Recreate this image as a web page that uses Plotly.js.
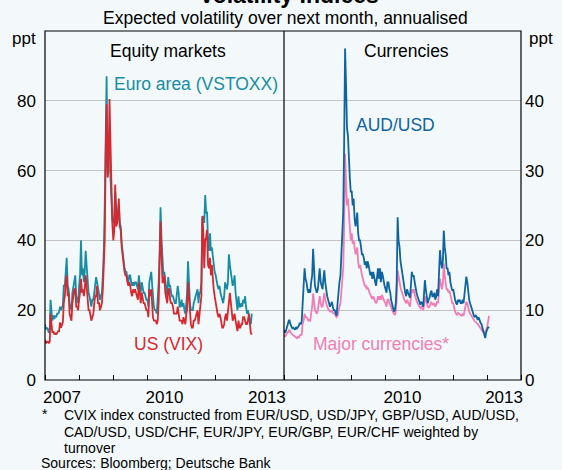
<!DOCTYPE html>
<html><head><meta charset="utf-8">
<script src="https://cdn.plot.ly/plotly-3.0.1.min.js"></script>
<style>html,body{margin:0;padding:0;background:#f3f9fa;} #chart{width:562px;height:470px;}</style>
</head><body><div id="chart"></div>
<script>
// sampling grid: 1st, 11th, 21st of each month, Jan 2007 - Jan 2013
const sampleDays = ['01','11','21'];
const firstYear = 2007, lastYear = 2013, lastMonth = 1;
const dates = [];
for (let y = firstYear; y <= lastYear; y++) {
  for (let m = 1; m <= 12; m++) {
    if (y === lastYear && m > lastMonth) break;
    for (const d of sampleDays) dates.push(y + '-' + String(m).padStart(2,'0') + '-' + d);
  }
}

// Euro area (VSTOXX), ppt
const vstoxx = [
  16,14.5,15, 14.5,13.5,15, 23,19,17, 18.5,17.5,18.5, 18,19,19, 19.5,21,20, 21,21.5,27, 27,31,35, 27,26,22, 21,20,25, 27,29,30, 24,23,22,
  27,30,40, 30,32,28, 31,37,33, 28,25,24, 22,21,23, 23,25,27, 29.5,28,26, 25,23,24, 25,30,37, 50,72,87, 60,66,72, 58,52,46,
  45,47,54, 47,45,47, 50,45,44, 39,36,34, 32,31,31, 29,28,30, 30,28,27, 28,27,28, 28,27,26, 30,27,25, 28,26,25, 25,24,23,
  23,21,28, 30,31,27, 23,21,20, 20,19,23, 28,36,49.5, 40,32,30, 31,27,26, 24,29.5,27, 27,25,24, 24,23,22, 22,24,27, 25,21,21,
  23,21,22, 20,19,22, 25,34,26, 22,20,20, 20,22,23, 24,25,26, 22,25,25, 28,46,47, 45,53,48, 48,40,37, 42,37,38, 35,32,31,
  30,28,27, 26,27,25, 24,23,22, 24,28,27, 26,28,36, 33,31,29, 27,28,30, 25,22,20, 24,21,21, 22,21,23, 22,24,21, 19,20,18,
  17,16,19
];
// US (VIX), ppt
const vix = [
  11.5,10.5,11, 11,10.5,11, 19,15,13.5, 14,13,13.5, 13,13.5,14, 14,16.5,15, 16,16.5,22, 24,28,30, 24,25,19, 18,17,22, 24,26,26, 21,21,20,
  23,25,29, 25,26,24, 26,30,27, 22,20,20, 18,17,18, 19,22,24, 24,27,22, 22,20,21, 22,26,33, 40,64,79, 58,60,80.5, 68,55,45,
  40,43,56, 44,45,50, 52,44,43, 38,35,34, 31,30,30, 28,27,28, 27,25,24, 26,25,26, 25,24,23, 28,24,22, 25,23,22, 22,21,20,
  20,18,26, 24,26,20, 18,17,17, 17,16,17, 22,33,45.5, 36,28,28, 30,25,23, 22,26,26, 23,22,22, 21,19,19, 19,19,21, 18,17,17,
  17,16,18, 17,16,19, 20,28,24, 17,16,15, 15,17,17, 18,19,20, 16,19,20, 24,47,43, 32,40,41, 43,33,32, 35,30,33, 28,26,24,
  22,21,19, 18,19,18, 17,15,15, 16,18,19, 17,19,22, 25,22,19, 17,18,19, 17,15,14, 17,15,15, 16,16,18, 18,17,16, 16,17,19,
  14.5,13.5,13
];
// AUD/USD implied volatility, ppt
const audusd = [
  7.2,6.8,7.0, 7.8,8.0,8.5, 8.6,8.0,7.6, 7.4,7.5,7.3, 7.2,7.6,7.4, 7.6,7.8,8.2, 8.0,8.4,10.5, 12.5,16,14.5, 14,13,12.5, 13,12.5,14, 15,18.8,15, 13.5,13,12.5,
  13,14.5,16, 14,13.5,13, 14.5,15.7,14, 12.5,12,11.5, 11,10.5,10.8, 11.2,10.5,10, 10,9.5,9.2, 11,13.3,14, 15,19,22, 24,34,47.5, 42,36,35, 31,29,27,
  27,25,26, 23,22,23, 24,21,20, 20,19,18, 18,17.5,16.5, 17,16,17, 16.5,15.5,15, 15.5,14.5,15.5, 14.5,14,13.5, 14.5,16,14.5, 16,14,15.5, 15,14,13.5,
  13,12.5,14, 14,13,12.5, 11.5,11,10.5, 9.8,10,11, 14,23.3,20, 19,17,16, 15,14,13, 12.5,12,13, 12.5,12,11.8, 13.5,15.5,14.8, 15,14,13, 12.5,12,11.5,
  11,10.8,11.2, 11,10.5,12, 14.3,13,11.5, 11,11.5,11.8, 12.5,12.8,12, 12,12.5,11.5, 12,13,12, 15,18.6,17, 16,17,21.4, 19,18,16, 16,15,15.5, 14,13.5,12.8,
  13,12,11.5, 11,10.8,11.5, 11.2,11.5,11, 11,11.5,11, 12,13.5,14.8, 14,12.5,11.5, 11,10.5,10, 9.5,9.2,9.0, 9.3,9.0,8.6, 9,8.5,8.2, 8,7.4,7.0, 6.6,6.0,6.8,
  7.2,7.6,7.4
];
// Major currencies (CVIX), ppt
const cvix = [
  6.5,6.2,6.4, 6.8,6.8,7.2, 7.2,6.8,6.6, 6.5,6.4,6.3, 6.3,6.2,6.0, 6.2,6.1,6.4, 6.4,6.5,8.0, 8.5,9.5,9.0, 9.0,8.8,8.5, 8.6,8.5,9.5, 10.5,12.4,11, 10,9.8,9.5,
  10,11,12, 11,10.5,10.5, 12,12.5,11.5, 10.8,10.5,10.2, 10,9.8,9.8, 10,9.6,9.5, 9.5,9.2,9.0, 9.2,10,10.5, 11,12.5,14, 16,22,32.4, 28,25,26, 24,22,20,
  21,19.5,20, 19,18,18.5, 19,17,16, 16.5,15.5,15, 14.5,14,13.5, 13.5,13,13.2, 13,12.5,12.2, 12,11.6,12, 11.5,11.2,11, 11.3,12,11.5, 12,11.5,12.2, 11.8,11.5,11.2,
  11,10.5,11.5, 11.5,11,10.8, 10.5,10,9.8, 9.5,9.3,9.8, 11.5,15.7,14.8, 14,13.3,12.8, 12.5,12,11.5, 11.2,11,11.5, 11,10.8,10.5, 11.5,13,12.5, 13,12.2,11.8, 11.2,11,10.8,
  10.5,10.3,10.5, 10.2,10,10.8, 12,11.5,11, 10.5,10.4,10.5, 11,11.2,10.8, 10.8,11,10.5, 10.8,11.3,11, 12.5,14.5,13.8, 13,13.8,16.7, 15,14,13, 13,12.5,12.8, 12,11.5,11,
  11,10.2,9.8, 9.5,9.3,9.6, 9.5,9.4,9.2, 9.2,9.4,9.2, 9.8,10.4,11.2, 11,10.2,9.8, 9.5,9.3,9, 8.7,8.5,8.4, 8.3,8.2,8.0, 7.8,7.6,7.4, 7.2,7.0,6.8, 6.9,6.8,7.2,
  7.6,8.4,9.2
];

const leftYearLabels = ['2007','2010','2013'];
const leftYearLabelPos = ['2007-07-02','2010-07-02','2013-07-02'];
const rightYearLabels = ['2010','2013'];
const rightYearLabelPos = ['2010-07-02','2013-07-02'];
const xRange = ['2007-01-01','2014-01-01'];
const leftTicks = [0,20,40,60,80];
const rightTicks = [0,10,20,30,40];

const C = {teal:'#178ca5', red:'#d7282f', blue:'#0e64a0', pink:'#f27cb6', bg:'#f3f9fa', grid:'#c3c3c3'};
const FONT = 'Liberation Sans, Arial, sans-serif';

// pixel helpers for placing text
const L=45, R=521, T=31, B=380;
const px = x => (x - L)/(R - L);
const py = y => 1 - (y - T)/(B - T);
const split = px(284);

const LW = 1.8;
const traces = [
  {x:dates, y:vstoxx, xaxis:'x', yaxis:'y', type:'scatter', mode:'lines', line:{color:C.teal, width:LW}},
  {x:dates, y:vix, xaxis:'x', yaxis:'y', type:'scatter', mode:'lines', line:{color:C.red, width:LW}},
  {x:dates, y:cvix, xaxis:'x2', yaxis:'y2', type:'scatter', mode:'lines', line:{color:C.pink, width:LW}},
  {x:dates, y:audusd, xaxis:'x2', yaxis:'y2', type:'scatter', mode:'lines', line:{color:C.blue, width:LW}}
];

function xAxis(domain, anchor, vals, text) {
  return {
    domain:domain, anchor:anchor,
    type:'date', range:xRange, tickmode:'array', tickvals:vals, ticktext:text,
    ticks:'', showgrid:false, zeroline:false, showline:false, ticklabelstandoff:5,
    tickfont:{size:17, color:'#000', family:FONT},
    minor:{dtick:'M12', tick0:'2007-01-01', ticks:'inside', ticklen:5, tickcolor:'#000', tickwidth:1, showgrid:false}
  };
}
const yCommon = {showgrid:true, gridcolor:C.grid, gridwidth:1, zeroline:false, showline:false, ticks:'',
  tickfont:{size:17, color:'#000', family:FONT}};

function ann(text, x, y, color, size, xanchor) {
  return {text:text, xref:'paper', yref:'paper', x:px(x), y:py(y), xanchor:xanchor||'center', yanchor:'middle',
    showarrow:false, font:{size:size, color:color, family:FONT}};
}

const layout = {
  width:562, height:470,
  margin:{l:L, r:562-R, t:T, b:470-B, pad:0},
  paper_bgcolor:C.bg, plot_bgcolor:C.bg,
  showlegend:false, hovermode:false,
  font:{family:FONT, color:'#000'},
  xaxis:xAxis([0, split], 'y', leftYearLabelPos, leftYearLabels),
  xaxis2:xAxis([split, 1], 'y2', rightYearLabelPos, rightYearLabels),
  yaxis:Object.assign({domain:[0,1], anchor:'x', range:[0,100], tickvals:leftTicks, side:'left', ticklabelstandoff:8}, yCommon),
  yaxis2:Object.assign({domain:[0,1], anchor:'x2', range:[0,50], tickvals:rightTicks, side:'right', ticklabelstandoff:3}, yCommon),
  shapes:[
    {type:'rect', xref:'paper', yref:'paper', x0:0, x1:1, y0:0, y1:1, line:{color:'#000', width:1.2}},
    {type:'line', xref:'paper', yref:'paper', x0:split, x1:split, y0:0, y1:1, line:{color:'#000', width:1.2}}
  ],
  annotations:[
    ann('<b>Volatility Indices</b>', 289, -5, '#000', 23),
    ann('Expected volatility over next month, annualised', 285, 18, '#000', 17.5),
    ann('ppt', 24, 39, '#000', 17),
    ann('ppt', 541, 39, '#000', 17),
    ann('Equity markets', 168, 51, '#000', 17.5),
    ann('Currencies', 406, 51, '#000', 17.5),
    ann('Euro area (VSTOXX)', 112, 84, C.teal, 17.5, 'left'),
    ann('US (VIX)', 132, 344, C.red, 17.5, 'left'),
    ann('AUD/USD', 354, 125, C.blue, 17.5, 'left'),
    ann('Major currencies*', 311, 344, C.pink, 17.5, 'left'),
    ann('*', 40, 414, '#000', 14, 'left'),
    ann('CVIX index constructed from EUR/USD, USD/JPY, GBP/USD, AUD/USD,', 62, 415, '#000', 14, 'left'),
    ann('CAD/USD, USD/CHF, EUR/JPY, EUR/GBP, EUR/CHF weighted by', 62, 432, '#000', 14, 'left'),
    ann('turnover', 62, 448, '#000', 14, 'left'),
    ann('Sources: Bloomberg; Deutsche Bank', 39, 463, '#000', 14, 'left')
  ]
};

Plotly.newPlot('chart', traces, layout, {staticPlot:true, displayModeBar:false});
</script>
</body></html>
